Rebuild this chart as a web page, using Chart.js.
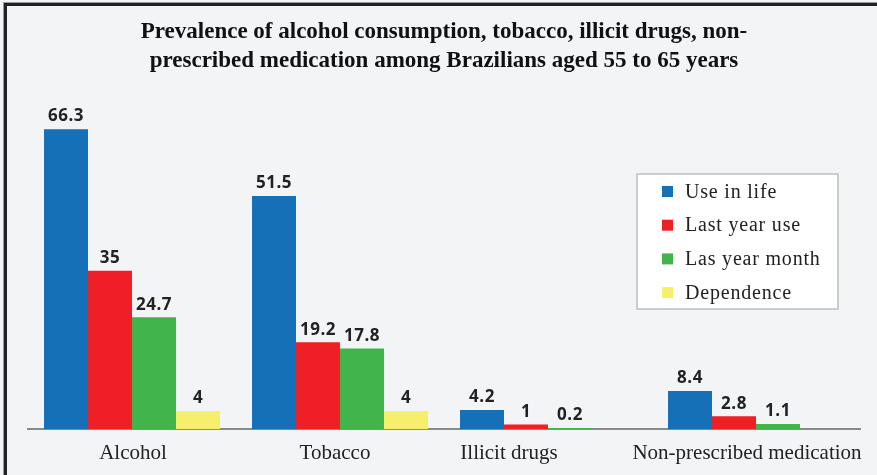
<!DOCTYPE html>
<html>
<head>
<meta charset="utf-8">
<script src="https://cdn.jsdelivr.net/npm/chart.js@4.4.0/dist/chart.umd.min.js"></script>
<style>
  html, body { margin: 0; padding: 0; background: #f3f4f6; }
  #wrap { position: relative; width: 877px; height: 475px; }
</style>
</head>
<body>
<div id="wrap"><canvas id="chart" width="877" height="475"></canvas></div>
<script>
const categories = ["Alcohol", "Tobacco", "Illicit drugs", "Non-prescribed medication"];
const seriesNames = ["Use in life", "Last year use", "Las year month", "Dependence"];
const useInLife = [66.3, 51.5, 4.2, 8.4];
const lastYearUse = [35, 19.2, 1, 2.8];
const lastYearMonth = [24.7, 17.8, 0.2, 1.1];
const dependence = [4, 4, null, null];
const colors = ["#1570b8", "#ee1f25", "#41b54b", "#f6ef6b"];

// small horizontal nudges for the category names (px)
const labelNudge = [1, -5, -39, -9];

const serif = "'Liberation Serif', 'Times New Roman', serif";

// frame on the left and top edges
const framePlugin = {
    id: "frame",
    afterDraw(chart) {
        const ctx = chart.ctx;
        ctx.save();
        ctx.fillStyle = "#999";
        ctx.fillRect(3, 2, 874, 1);
        ctx.fillRect(3, 2, 1, 473);
        ctx.fillStyle = "#222";
        ctx.fillRect(4, 3, 3, 472);
        ctx.fillRect(4, 3, 873, 3);
        ctx.restore();
    }
};

// category names under the axis, placed from the x scale
const categoryLabels = {
    id: "categoryLabels",
    afterDraw(chart) {
        const ctx = chart.ctx;
        const xs = chart.scales.x;
        ctx.save();
        ctx.font = "21px " + serif;
        ctx.fillStyle = "#222";
        ctx.textAlign = "center";
        ctx.textBaseline = "middle";
        chart.data.labels.forEach((name, i) => {
            ctx.fillText(name, xs.getPixelForTick(i) + labelNudge[i], chart.chartArea.bottom + 24);
        });
        ctx.restore();
    }
};

// value labels above each bar
const valueLabels = {
    id: "valueLabels",
    afterDatasetsDraw(chart) {
        const ctx = chart.ctx;
        ctx.save();
        ctx.font = "bold 17px 'Open Sans', sans-serif";
        ctx.letterSpacing = "0.5px";
        ctx.fillStyle = "#222";
        ctx.textAlign = "center";
        ctx.textBaseline = "bottom";
        chart.data.datasets.forEach((ds, i) => {
            chart.getDatasetMeta(i).data.forEach((bar, j) => {
                const v = ds.data[j];
                if (v === null) return;
                ctx.fillText(String(v), bar.x, bar.y - 4);
            });
        });
        ctx.restore();
    }
};

// boxed legend inside the plot
const boxLegend = {
    id: "boxLegend",
    afterDraw(chart) {
        const ctx = chart.ctx;
        const x = 637, y = 174, w = 201, h = 135;
        ctx.save();
        ctx.fillStyle = "#ffffff";
        ctx.fillRect(x, y, w, h);
        ctx.strokeStyle = "#bdbdbd";
        ctx.lineWidth = 1.5;
        ctx.strokeRect(x, y, w, h);
        ctx.font = "20px " + serif;
        ctx.letterSpacing = "0.8px";
        ctx.textBaseline = "middle";
        ctx.textAlign = "left";
        chart.data.datasets.forEach((ds, i) => {
            const cy = 191.5 + i * 33.7;
            ctx.fillStyle = ds.backgroundColor;
            ctx.fillRect(662, cy - 5.5, 11, 11);
            ctx.fillStyle = "#222";
            ctx.fillText(ds.label, 685, cy + 1);
        });
        ctx.restore();
    }
};

const datasets = [useInLife, lastYearUse, lastYearMonth, dependence].map((d, i) => ({
    label: seriesNames[i],
    data: d,
    backgroundColor: colors[i],
    borderWidth: 0,
    categoryPercentage: 0.846,
    barPercentage: 1
}));

new Chart(document.getElementById("chart"), {
    type: "bar",
    data: { labels: categories, datasets: datasets },
    options: {
        responsive: false,
        animation: false,
        layout: { autoPadding: false, padding: { left: 28, right: 17, top: 0, bottom: 46 } },
        plugins: {
            legend: { display: false },
            tooltip: { enabled: false },
            title: {
                display: true,
                text: ["Prevalence of alcohol consumption, tobacco, illicit drugs, non-",
                       "prescribed medication among Brazilians aged 55 to 65 years"],
                color: "#111",
                font: { family: serif, size: 23, weight: "bold", lineHeight: 1.27 },
                padding: { top: 17, bottom: 37 }
            }
        },
        scales: {
            x: {
                grid: { display: false, drawTicks: false },
                border: { color: "#8a8a8a", width: 2 },
                ticks: { display: false }
            },
            y: {
                display: false,
                min: 0,
                max: 70
            }
        }
    },
    plugins: [valueLabels, categoryLabels, boxLegend, framePlugin]
});
</script>
</body>
</html>
